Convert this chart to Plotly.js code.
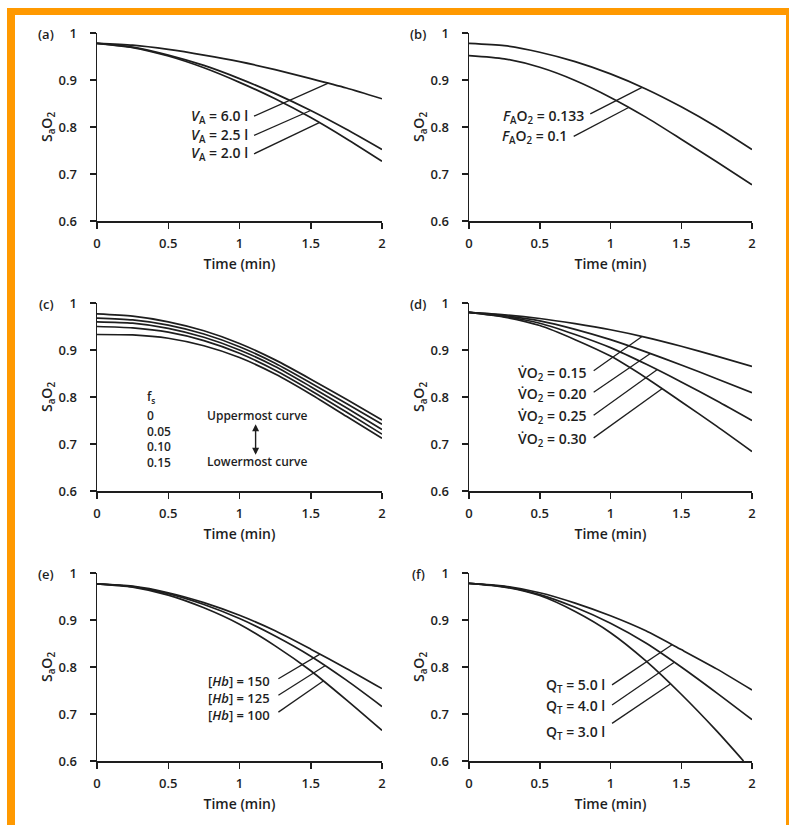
<!DOCTYPE html>
<html><head><meta charset="utf-8">
<script src="https://cdn.plot.ly/plotly-3.0.1.min.js"></script>
<style>
html,body{margin:0;padding:0;background:#fff;overflow:hidden}
#chart{position:absolute;left:0;top:0;width:789px;height:825px}
.bar{position:absolute;background:#FF9900;z-index:10}
</style>
</head><body>
<div id="chart"></div>
<div class="bar" style="left:7px;top:8px;width:782px;height:7px"></div>
<div class="bar" style="left:7px;top:8px;width:8px;height:817px"></div>
<div class="bar" style="left:786px;top:8px;width:3px;height:817px"></div>
<script>
// ---- data ----
const T = [0, 0.25, 0.5, 0.75, 1, 1.25, 1.5, 1.75, 2];
const T_f3 = [0, 0.25, 0.5, 0.75, 1, 1.25, 1.5, 1.75, 1.94];
const xTickVals = [0, 0.5, 1, 1.5, 2];
const xTickText = ['0', '0.5', '1', '1.5', '2'];
const yTickVals = [0.6, 0.7, 0.8, 0.9, 1];
const yTickText = ['0.6', '0.7', '0.8', '0.9', '1'];
const panelLetters = ['(a)', '(b)', '(c)', '(d)', '(e)', '(f)'];

// (a) alveolar ventilation
const a_VA60 = [0.978, 0.974, 0.965, 0.953, 0.939, 0.922, 0.903, 0.883, 0.860];
const a_VA25 = [0.978, 0.970, 0.953, 0.931, 0.903, 0.871, 0.835, 0.795, 0.752];
const a_VA20 = [0.978, 0.969, 0.951, 0.926, 0.895, 0.860, 0.820, 0.775, 0.727];
// (b) inspired O2 fraction
const b_F0133 = [0.978, 0.973, 0.959, 0.939, 0.913, 0.881, 0.843, 0.800, 0.752];
const b_F010 = [0.952, 0.945, 0.927, 0.899, 0.863, 0.821, 0.774, 0.726, 0.677];
// (c) shunt fraction
const c_fs0 = [0.977, 0.972, 0.960, 0.941, 0.914, 0.879, 0.838, 0.795, 0.751];
const c_fs05 = [0.968, 0.964, 0.953, 0.934, 0.907, 0.872, 0.830, 0.786, 0.742];
const c_fs10 = [0.960, 0.957, 0.946, 0.927, 0.900, 0.865, 0.822, 0.777, 0.731];
const c_fs15 = [0.950, 0.947, 0.938, 0.920, 0.893, 0.857, 0.814, 0.768, 0.721];
const c_fs20 = [0.933, 0.932, 0.925, 0.909, 0.884, 0.849, 0.806, 0.759, 0.712];
// (d) O2 consumption
const d_VO2_15 = [0.980, 0.975, 0.967, 0.956, 0.943, 0.927, 0.908, 0.887, 0.865];
const d_VO2_20 = [0.980, 0.973, 0.962, 0.944, 0.922, 0.896, 0.868, 0.839, 0.809];
const d_VO2_25 = [0.980, 0.971, 0.957, 0.933, 0.905, 0.870, 0.832, 0.792, 0.750];
const d_VO2_30 = [0.980, 0.970, 0.952, 0.922, 0.887, 0.841, 0.790, 0.738, 0.684];
// (e) haemoglobin
const e_Hb150 = [0.977, 0.972, 0.958, 0.937, 0.910, 0.877, 0.838, 0.797, 0.754];
const e_Hb125 = [0.977, 0.971, 0.956, 0.933, 0.903, 0.866, 0.823, 0.772, 0.716];
const e_Hb100 = [0.977, 0.970, 0.953, 0.926, 0.891, 0.845, 0.792, 0.730, 0.665];
// (f) cardiac output
const f_QT50 = [0.978, 0.972, 0.958, 0.936, 0.909, 0.877, 0.837, 0.796, 0.751];
const f_QT40 = [0.978, 0.971, 0.954, 0.927, 0.893, 0.851, 0.800, 0.745, 0.688];
const f_QT30 = [0.978, 0.970, 0.952, 0.918, 0.873, 0.813, 0.742, 0.664, 0.600];

// ---- layout geometry ----
const W = 789, H = 825;
const colPx = [[97, 382], [469, 752]];
const rowPx = [[33, 221], [303, 491], [573, 761]];
const INK = '#1e1e1e';
const FONT = 'Open Sans, Noto Sans, sans-serif';
const tickFont = {family: FONT, size: 13, color: INK, weight: 600};
const labFont = {family: FONT, size: 14, color: INK, weight: 600};
const midFont = {family: FONT, size: 13, color: INK, weight: 600};
const legFont = {family: FONT, size: 12, color: INK, weight: 600};

const panels = [
  {series: [[T, a_VA60], [T, a_VA25], [T, a_VA20]]},
  {series: [[T, b_F0133], [T, b_F010]]},
  {series: [[T, c_fs0], [T, c_fs05], [T, c_fs10], [T, c_fs15], [T, c_fs20]]},
  {series: [[T, d_VO2_15], [T, d_VO2_20], [T, d_VO2_25], [T, d_VO2_30]]},
  {series: [[T, e_Hb150], [T, e_Hb125], [T, e_Hb100]]},
  {series: [[T, f_QT50], [T, f_QT40], [T_f3, f_QT30]]}
];

function interp(xs, ys, x) {
  for (let i = 0; i < xs.length - 1; i++) {
    if (x >= xs[i] && x <= xs[i + 1]) {
      const f = (x - xs[i]) / (xs[i + 1] - xs[i]);
      return ys[i] + f * (ys[i + 1] - ys[i]);
    }
  }
  return ys[ys.length - 1];
}

const layout = {
  width: W, height: H,
  margin: {l: 0, r: 0, t: 0, b: 0},
  paper_bgcolor: '#ffffff', plot_bgcolor: '#ffffff',
  showlegend: false,
  shapes: [], annotations: []
};
const data = [];

panels.forEach((p, i) => {
  const n = i + 1;
  const col = i % 2, row = Math.floor(i / 2);
  const xs = n === 1 ? '' : String(n);
  const cx = colPx[col], ry = rowPx[row];
  layout['xaxis' + xs] = {
    domain: [cx[0] / W, cx[1] / W], anchor: 'y' + xs, range: [0, 2],
    tickvals: xTickVals, ticktext: xTickText, ticks: 'outside', ticklen: 6, tickwidth: 1.5,
    tickcolor: INK, showline: true, linewidth: 1.5, linecolor: INK, showgrid: false,
    zeroline: false, fixedrange: true, tickfont: tickFont, ticklabelstandoff: 4,
    title: {text: 'Time (min)', font: labFont, standoff: 8}
  };
  layout['yaxis' + xs] = {
    domain: [1 - ry[1] / H, 1 - ry[0] / H], anchor: 'x' + xs, range: [0.6, 1],
    tickvals: yTickVals, ticktext: yTickText, ticks: 'outside', ticklen: 6, tickwidth: 1.5,
    tickcolor: INK, showline: true, linewidth: 1.5, linecolor: INK, showgrid: false,
    zeroline: false, fixedrange: true, tickfont: tickFont, ticklabelstandoff: 10,
    title: {text: 'S<sub>a</sub>O<sub>2</sub>', font: labFont, standoff: 2}
  };
  p.series.forEach(s => {
    data.push({x: s[0], y: s[1], xaxis: 'x' + xs, yaxis: 'y' + xs, mode: 'lines',
      line: {color: INK, width: 1.7, shape: 'spline', smoothing: 0.7},
      hoverinfo: 'skip', showlegend: false});
  });
  layout.annotations.push({xref: 'paper', yref: 'paper',
    x: (cx[0] - 51) / W, y: 1 - (ry[0] + 1) / H, text: panelLetters[i],
    showarrow: false, xanchor: 'center', yanchor: 'middle', font: tickFont});
});

// ---- labels and leader lines ----
function ax(n) { return n === 1 ? '' : String(n); }
function label(n, x, y, text, anchor, font, align) {
  layout.annotations.push({xref: 'x' + ax(n), yref: 'y' + ax(n), x: x, y: y, text: text,
    showarrow: false, xanchor: anchor || 'right', yanchor: 'middle', align: align || 'left',
    font: font || labFont});
}
function leader(n, x0, y0, t1, series) {
  const s = panels[n - 1].series[series];
  layout.shapes.push({type: 'line', xref: 'x' + ax(n), yref: 'y' + ax(n),
    x0: x0, y0: y0, x1: t1, y1: interp(s[0], s[1], t1),
    line: {color: INK, width: 1.3}});
}

// (a)
label(1, 1.075, 0.823, '<i>V</i><sub>A</sub> = 6.0 l');
label(1, 1.075, 0.782, '<i>V</i><sub>A</sub> = 2.5 l');
label(1, 1.075, 0.743, '<i>V</i><sub>A</sub> = 2.0 l');
leader(1, 1.102, 0.823, 1.623, 0);
leader(1, 1.102, 0.782, 1.499, 1);
leader(1, 1.102, 0.743, 1.560, 2);
// (b)
label(2, 0.828, 0.823, '<i>F</i><sub>A</sub>O<sub>2</sub> = 0.133');
label(2, 0.710, 0.780, '<i>F</i><sub>A</sub>O<sub>2</sub> = 0.1');
leader(2, 0.857, 0.828, 1.223, 0);
leader(2, 0.740, 0.780, 1.128, 1);
// (c)
label(3, 0.337, 0.801, 'f<sub>s</sub>', 'left', legFont);
label(3, 0.337, 0.7115, '0<br>0.05<br>0.10<br>0.15', 'left', legFont);
label(3, 0.758, 0.761, 'Uppermost curve', 'left', legFont);
label(3, 0.758, 0.662, 'Lowermost curve', 'left', legFont);
layout.annotations.push({xref: 'x3', yref: 'y3', axref: 'x3', ayref: 'y3',
  x: 1.113, y: 0.677, ax: 1.113, ay: 0.745, text: '', showarrow: true,
  arrowhead: 2, arrowside: 'end+start', arrowsize: 1, arrowwidth: 1.4, arrowcolor: INK});
// (d)
label(4, 0.850, 0.851, 'V̇O<sub>2</sub> = 0.15');
label(4, 0.850, 0.805, 'V̇O<sub>2</sub> = 0.20');
label(4, 0.850, 0.759, 'V̇O<sub>2</sub> = 0.25');
label(4, 0.850, 0.709, 'V̇O<sub>2</sub> = 0.30');
leader(4, 0.881, 0.856, 1.223, 0);
leader(4, 0.881, 0.810, 1.282, 1);
leader(4, 0.881, 0.761, 1.329, 2);
leader(4, 0.881, 0.713, 1.364, 3);
// (e)
label(5, 1.230, 0.7335, '[<i>Hb</i>] = 150<br>[<i>Hb</i>] = 125<br>[<i>Hb</i>] = 100', 'right', midFont, 'right');
leader(5, 1.273, 0.775, 1.565, 0);
leader(5, 1.273, 0.740, 1.600, 1);
leader(5, 1.273, 0.704, 1.588, 2);
// (f)
label(6, 0.978, 0.760, 'Q<sub>T</sub> = 5.0 l');
label(6, 0.978, 0.717, 'Q<sub>T</sub> = 4.0 l');
label(6, 0.978, 0.660, 'Q<sub>T</sub> = 3.0 l');
leader(6, 1.011, 0.762, 1.435, 0);
leader(6, 1.011, 0.719, 1.451, 1);
leader(6, 1.011, 0.680, 1.423, 2);

Plotly.newPlot('chart', data, layout, {staticPlot: true, displayModeBar: false});
</script>
</body></html>
